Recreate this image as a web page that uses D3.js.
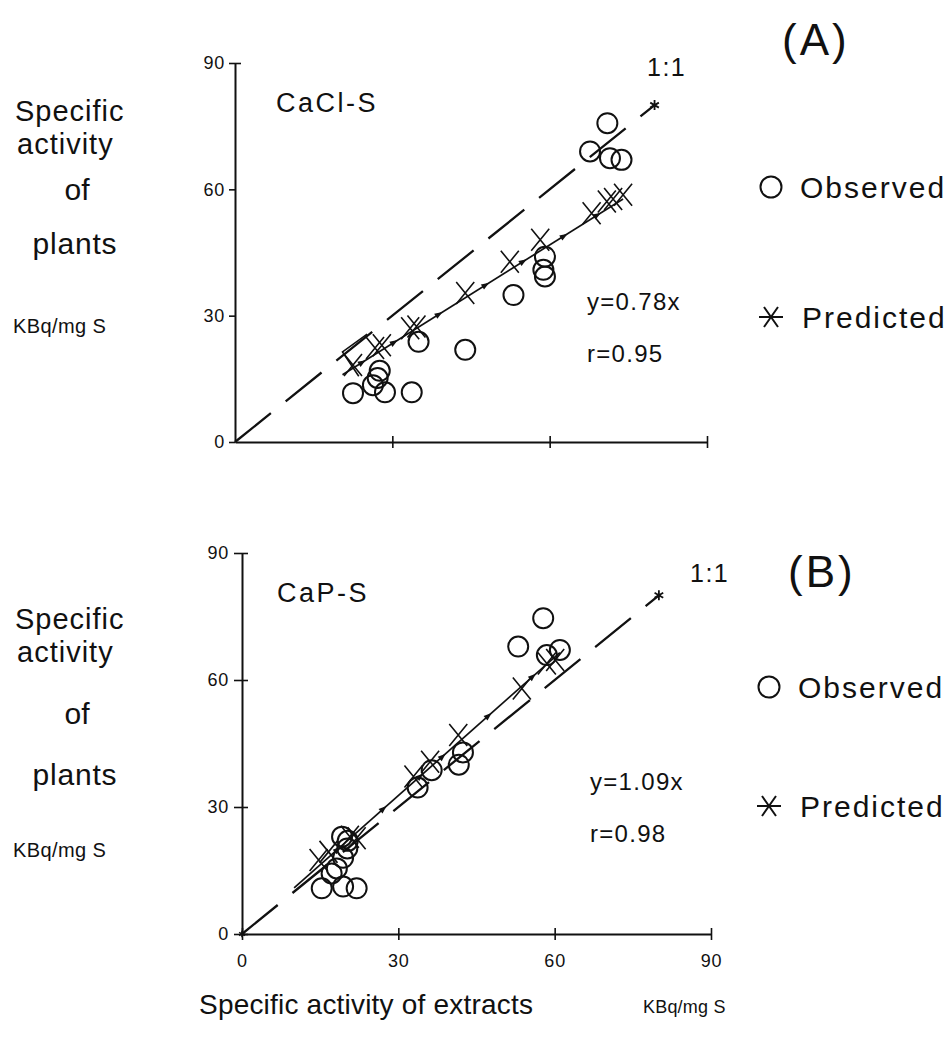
<!DOCTYPE html>
<html><head><meta charset="utf-8">
<script src="https://cdn.jsdelivr.net/npm/d3@7"></script>
<style>
body{margin:0;background:#fff}
text{font-family:"Liberation Sans",Arial,sans-serif;fill:#111}
</style>
</head><body>
<svg id="c" width="950" height="1041"></svg>
<script>
// ---------------- data ----------------
const yTicks = [0, 30, 60, 90];
const xTicksA = [30, 60, 90];
const xTicksB = [0, 30, 60, 90];
const oneToOne = [[0, 0], [80, 80]];

// Panel A : CaCl-S
const observedA = [[22.5,11.6],[26.3,13.5],[27.2,15.2],[27.6,16.9],[28.6,11.8],[33.7,11.8],[35.0,23.8],[43.9,21.9],
  [53.1,34.9],[59.1,44.0],[58.8,40.9],[59.1,39.3],[67.7,69.0],[71.5,67.4],[73.7,67.0],[71.0,75.7]];
const predictedA = [[22.5,18.3],[26.7,22.3],[28.0,23.0],[33.4,27.0],[34.6,27.4],[43.9,35.4],[52.4,42.8],
  [58.2,48.0],[68.0,54.3],[70.9,57.1],[72.1,57.7],[74.0,58.7]];
const fitA = {slope: 0.78, from: 20.5, to: 74};
const bracketA = [[23.6,15.6],[20.5,21.4],[25.2,25.6]];

// Panel B : CaP-S
const observedB = [[15.3,10.8],[17.2,14.3],[18.2,15.5],[19.4,11.2],[22.0,10.8],[19.4,18.0],[19.2,23.0],[20.3,22.0],
  [20.2,20.2],[33.7,34.6],[36.4,38.7],[41.6,40.0],[42.4,42.9],[53.0,67.9],[57.8,74.6],[58.5,65.9],[61.0,67.1]];
const predictedB = [[14.7,17.5],[16.6,19.4],[20.7,23.0],[22.0,22.6],[32.9,37.2],[36.1,40.7],[41.5,47.0],
  [53.7,58.0],[58.5,63.9],[60.1,64.7]];
const fitB = {slope: 1.09, from: 10, to: 61};

// ---------------- drawing ----------------
const svg = d3.select("#c");
svg.append("rect").attr("width", 950).attr("height", 1041).attr("fill", "#fff");
const INK = "#111";
const FONT = '"Liberation Sans",Arial,sans-serif';

const xPath = "M-9,-11L9,11M-9,11L9,-11";
const asterPath = "M-12,0H12M-7,-10L7,10M-7,10L7,-10";

function panel(cfg) {
  const x = d3.scaleLinear().domain([0, 90]).range(cfg.xr);
  const y = d3.scaleLinear().domain([0, 90]).range(cfg.yr);
  const g = svg.append("g");

  // y axis
  const gy = g.append("g").attr("transform", `translate(${cfg.xr[0]},0)`)
    .call(d3.axisLeft(y).tickValues(yTicks).tickSize(cfg.yTickL).tickSizeOuter(0).tickPadding(cfg.yPad));
  gy.select(".domain").attr("stroke", INK).attr("stroke-width", 2);
  gy.selectAll(".tick line").attr("stroke", INK).attr("stroke-width", 1.6)
    .attr("x1", d => (d === 90 || cfg.crossY) ? cfg.yTickR : 0);
  gy.selectAll(".tick text").attr("font-size", 18).attr("fill", INK)
    .attr("font-family", FONT).attr("letter-spacing", 0.8);

  // x axis
  const gx = g.append("g").attr("transform", `translate(0,${cfg.yr[0]})`)
    .call(d3.axisBottom(x).tickValues(cfg.xTicks).tickSize(6).tickSizeOuter(0).tickPadding(14)
      .tickFormat(cfg.xLabels ? d3.format("d") : () => ""));
  gx.select(".domain").attr("stroke", INK).attr("stroke-width", 2);
  gx.selectAll(".tick line").attr("stroke", INK).attr("stroke-width", 1.6).attr("y1", -6).attr("y2", 6);
  gx.selectAll(".tick text").attr("font-size", 18).attr("fill", INK)
    .attr("font-family", FONT).attr("letter-spacing", 0.8);

  const line = d3.line().x(d => x(d[0])).y(d => y(d[1]));

  // 1:1 dashed line
  g.append("path").attr("d", line(oneToOne)).attr("fill", "none").attr("stroke", INK)
    .attr("stroke-width", 2.3).attr("stroke-dasharray", "46,19");
  g.append("path").attr("d", d3.symbol(d3.symbolAsterisk, 70)())
    .attr("transform", `translate(${x(oneToOne[1][0])},${y(oneToOne[1][1])})`)
    .attr("fill", "none").attr("stroke", INK).attr("stroke-width", 1.8);
  if (cfg.originStar) {
    g.append("path").attr("d", d3.symbol(d3.symbolAsterisk, 30)())
      .attr("transform", `translate(${x(0)},${y(0)})`)
      .attr("fill", "none").attr("stroke", INK).attr("stroke-width", 1.6);
  }

  // fitted (predicted) solid line
  const fit = [[cfg.fit.from, cfg.fit.slope * cfg.fit.from], [cfg.fit.to, cfg.fit.slope * cfg.fit.to]];
  g.append("path").attr("d", line(fit)).attr("fill", "none").attr("stroke", INK).attr("stroke-width", 1.7);

  // small arrowheads between predicted marks
  const ang = Math.atan2(y(cfg.fit.slope * 10) - y(0), x(10) - x(0)) * 180 / Math.PI;
  const pr = cfg.pred;
  for (let i = 0; i < pr.length - 1; i++) {
    const xm = (pr[i][0] + pr[i + 1][0]) / 2;
    if (x(pr[i + 1][0]) - x(pr[i][0]) < 14) continue;
    g.append("path").attr("d", "M-6,-3L2,0L-6,3Z")
      .attr("transform", `translate(${x(xm)},${y(cfg.fit.slope * xm)}) rotate(${ang})`)
      .attr("fill", INK);
  }

  // predicted X markers
  g.selectAll(".pred").data(cfg.pred).join("path").attr("class", "pred")
    .attr("d", xPath).attr("transform", d => `translate(${x(d[0])},${y(d[1])})`)
    .attr("fill", "none").attr("stroke", INK).attr("stroke-width", 1.6);

  // observed circles
  g.selectAll(".obs").data(cfg.obs).join("circle").attr("class", "obs")
    .attr("cx", d => x(d[0])).attr("cy", d => y(d[1])).attr("r", 10)
    .attr("fill", "none").attr("stroke", INK).attr("stroke-width", 2);

  if (cfg.bracket) {
    g.append("path").attr("d", line(cfg.bracket)).attr("fill", "none")
      .attr("stroke", INK).attr("stroke-width", 1.6);
  }

  // texts
  const T = (s, tx, ty, size, opts = {}) => g.append("text").text(s).attr("x", tx).attr("y", ty)
    .attr("font-size", size).attr("text-anchor", opts.anchor || "start")
    .attr("letter-spacing", opts.ls || 0);
  T(cfg.name, cfg.nameX, cfg.nameY, 27, {ls: 2.5});
  T("1:1", cfg.oneX, cfg.oneY, 25, {ls: 1.5});
  T(cfg.label, cfg.labX, cfg.labY, 44, {ls: 3});
  T(cfg.eq, cfg.eqX, cfg.eqY, 24, {ls: 1.3});
  T(cfg.r, cfg.eqX, cfg.eqY + 52, 24, {ls: 1.3});

  // legend
  g.append("circle").attr("cx", cfg.legX).attr("cy", cfg.legY1).attr("r", 10.5)
    .attr("fill", "none").attr("stroke", INK).attr("stroke-width", 2);
  T("Observed", cfg.legX + 29, cfg.legY1 + 11, 30, {ls: 2});
  g.append("path").attr("d", asterPath).attr("transform", `translate(${cfg.legX},${cfg.legY2})`)
    .attr("fill", "none").attr("stroke", INK).attr("stroke-width", 2);
  T("Predicted", cfg.legX + 31, cfg.legY2 + 11, 30, {ls: 2});

  // left axis title
  const L = cfg.leftY;
  T("Specific", 15, L[0], 29, {ls: 1});
  T("activity", 17, L[1], 29, {ls: 1});
  T("of", 77, L[2], 30, {anchor: "middle"});
  T("plants", 75, L[3], 30, {anchor: "middle", ls: 0.8});
  T("KBq/mg S", 13, L[4], 20, {ls: 0.4});
}

panel({
  xr: [235, 707], yr: [442, 63], xTicks: xTicksA, xLabels: false,
  yTickL: 6, yTickR: 6, yPad: 4, crossY: false,
  obs: observedA, pred: predictedA, fit: fitA, bracket: bracketA, originStar: false,
  name: "CaCl-S", nameX: 276, nameY: 112, oneX: 647, oneY: 76,
  label: "(A)", labX: 782, labY: 55, eq: "y=0.78x", r: "r=0.95", eqX: 587, eqY: 310,
  legX: 771, legY1: 187, legY2: 317, leftY: [121, 154, 200, 254, 333]
});
panel({
  xr: [242, 711], yr: [934, 553], xTicks: xTicksB, xLabels: true,
  yTickL: 8, yTickR: 6, yPad: 5, crossY: true,
  obs: observedB, pred: predictedB, fit: fitB, bracket: null, originStar: true,
  name: "CaP-S", nameX: 277, nameY: 602, oneX: 690, oneY: 582,
  label: "(B)", labX: 788, labY: 587, eq: "y=1.09x", r: "r=0.98", eqX: 590, eqY: 790,
  legX: 769, legY1: 687, legY2: 806, leftY: [629, 662, 724, 785, 857]
});

// bottom axis title
svg.append("text").text("Specific activity of extracts").attr("x", 199).attr("y", 1014)
  .attr("font-size", 28).attr("letter-spacing", 0.2);
svg.append("text").text("KBq/mg S").attr("x", 643).attr("y", 1013).attr("font-size", 18).attr("letter-spacing", 0.2);
</script>
</body></html>
